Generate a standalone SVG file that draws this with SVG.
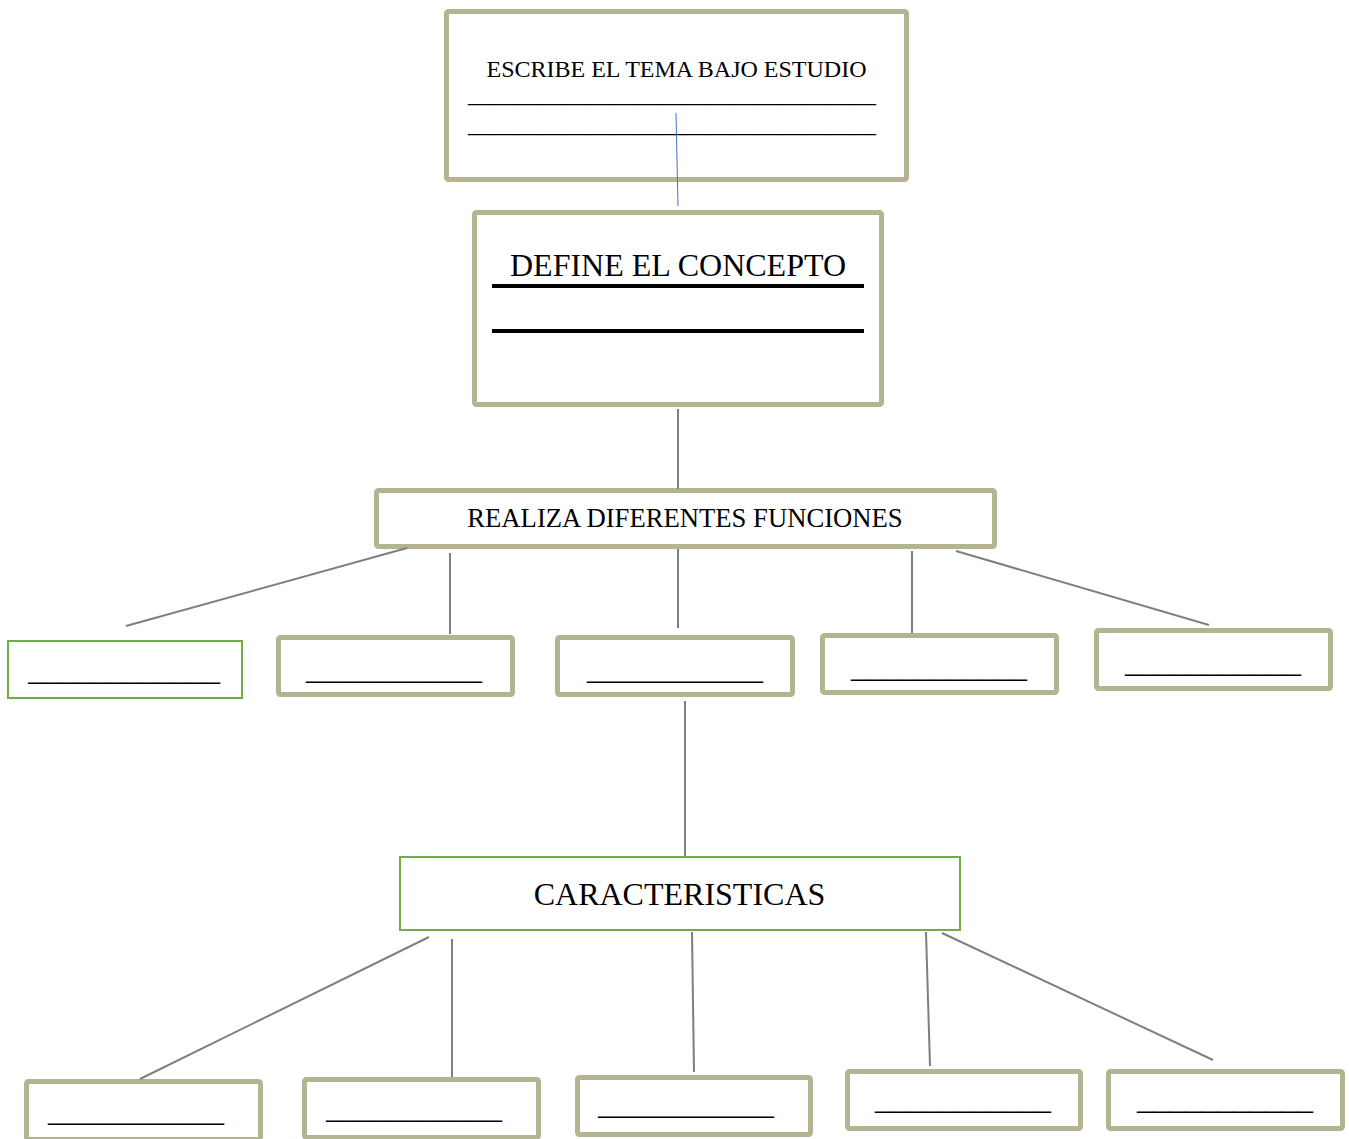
<svg xmlns="http://www.w3.org/2000/svg" width="1349" height="1139" viewBox="0 0 1349 1139">
<style>
.box{fill:#fff;stroke:#b4b492;stroke-width:5}
.gbox{fill:#fff;stroke:#70ad47;stroke-width:2}
.t{font-family:"Liberation Serif","Times New Roman",serif;fill:#000}
.u{font-family:"Liberation Serif","Times New Roman",serif;font-size:32px;fill:#000}
.c{stroke:#7f7f7f;stroke-width:2;fill:none}
</style>
<rect width="1349" height="1139" fill="#fff"/>
<g id="n-tema">
<rect class="box" x="446.5" y="11.5" width="460" height="168" rx="2"/>
<text class="t" x="676.5" y="77" font-size="24" text-anchor="middle">ESCRIBE EL TEMA BAJO ESTUDIO</text>
<text class="t" x="468" y="102" font-size="24">__________________________________</text>
<text class="t" x="468" y="132" font-size="24">__________________________________</text>
</g>
<g id="n-concepto">
<rect class="box" x="474.5" y="212.5" width="407" height="192" rx="2"/>
<text class="t" x="678" y="276" font-size="32" text-anchor="middle">DEFINE EL CONCEPTO</text>
<rect x="492" y="284" width="372" height="4" fill="#000"/>
<rect x="492" y="329" width="372" height="4" fill="#000"/>
</g>
<g id="n-funciones">
<rect class="box" x="376.5" y="490.5" width="618" height="56" rx="2"/>
<text class="t" x="685" y="527" font-size="26.67" text-anchor="middle">REALIZA DIFERENTES FUNCIONES</text>
</g>
<g id="n-f1">
<rect class="gbox" x="8" y="641" width="234" height="57"/>
<text class="u" x="28" y="680">____________</text>
</g>
<g id="n-f2">
<rect class="box" x="278.5" y="637.5" width="234" height="57" rx="2"/>
<text class="u" x="306" y="679">___________</text>
</g>
<g id="n-f3">
<rect class="box" x="557.5" y="637.5" width="235" height="57" rx="2"/>
<text class="u" x="587" y="679">___________</text>
</g>
<g id="n-f4">
<rect class="box" x="822.5" y="635.5" width="234" height="57" rx="2"/>
<text class="u" x="851" y="677">___________</text>
</g>
<g id="n-f5">
<rect class="box" x="1096.5" y="630.5" width="234" height="58" rx="2"/>
<text class="u" x="1125" y="672">___________</text>
</g>
<g id="n-caracteristicas">
<rect class="gbox" x="400" y="857" width="560" height="73"/>
<text class="t" x="679.5" y="905" font-size="32" text-anchor="middle">CARACTERISTICAS</text>
</g>
<g id="n-c1">
<rect class="box" x="26.5" y="1081.5" width="234" height="58" rx="2"/>
<text class="u" x="48" y="1121">___________</text>
</g>
<g id="n-c2">
<rect class="box" x="304.5" y="1079.5" width="234" height="58" rx="2"/>
<text class="u" x="326" y="1118">___________</text>
</g>
<g id="n-c3">
<rect class="box" x="577.5" y="1077.5" width="233" height="57" rx="2"/>
<text class="u" x="598" y="1114">___________</text>
</g>
<g id="n-c4">
<rect class="box" x="847.5" y="1071.5" width="233" height="57" rx="2"/>
<text class="u" x="875" y="1109">___________</text>
</g>
<g id="n-c5">
<rect class="box" x="1108.5" y="1071.5" width="234" height="57" rx="2"/>
<text class="u" x="1137" y="1109">___________</text>
</g>
<g id="connectors">
<line x1="676" y1="113" x2="678" y2="206" stroke="#4472c4" stroke-width="1"/>
<line class="c" x1="678" y1="409" x2="678" y2="489"/>
<line class="c" x1="407" y1="548" x2="126" y2="626"/>
<line class="c" x1="450" y1="553" x2="450" y2="634"/>
<line class="c" x1="678" y1="549" x2="678" y2="628"/>
<line class="c" x1="912" y1="551" x2="912" y2="633"/>
<line class="c" x1="956" y1="551" x2="1209" y2="625"/>
<line class="c" x1="685" y1="701" x2="685" y2="856"/>
<line class="c" x1="429" y1="937" x2="140" y2="1079"/>
<line class="c" x1="452" y1="939" x2="452" y2="1077"/>
<line class="c" x1="692" y1="932" x2="694" y2="1072"/>
<line class="c" x1="926" y1="932" x2="930" y2="1066"/>
<line class="c" x1="942" y1="933" x2="1213" y2="1060"/>
</g>
</svg>
